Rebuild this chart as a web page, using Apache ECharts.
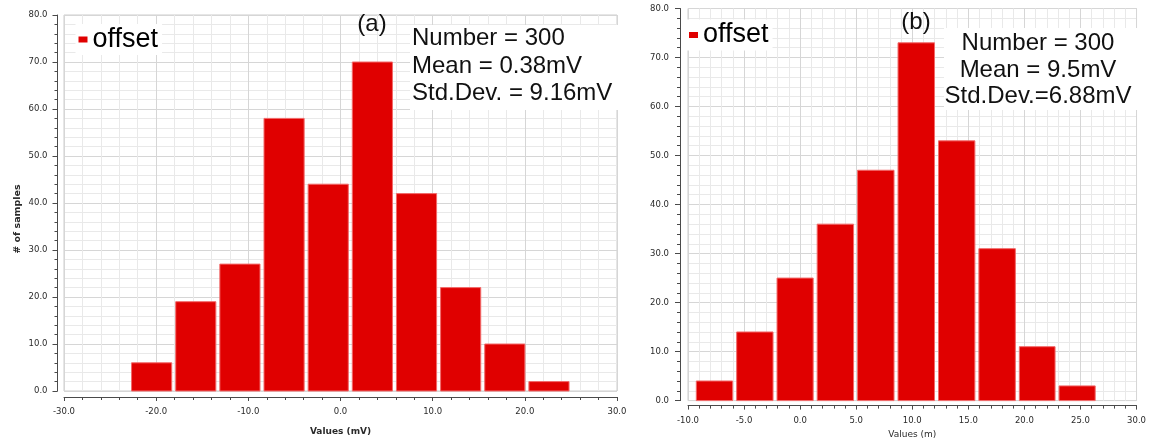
<!DOCTYPE html>
<html>
<head>
<meta charset="utf-8">
<title>offset histograms</title>
<script src="https://cdn.jsdelivr.net/npm/echarts@6/dist/echarts.min.js"></script>
<style>
  html, body { margin: 0; padding: 0; background: #fff; }
  #chart { width: 1149px; height: 444px; }
</style>
</head>
<body>
<div id="chart"></div>
<script>
// Histogram (a): bin edges (mV) and sample counts per bin
const binEdgesA = [-22.67, -17.88, -13.09, -8.30, -3.51, 1.28, 6.07, 10.86, 15.65, 20.44, 25.23];
const countsA = [6, 19, 27, 58, 44, 70, 42, 22, 10, 2];

// Histogram (b): bin edges and sample counts per bin
const binEdgesB = [-9.26, -5.66, -2.06, 1.52, 5.12, 8.73, 12.34, 15.94, 19.55, 23.09, 26.67];
const countsB = [4, 14, 25, 36, 47, 73, 53, 31, 11, 3];

// Axis ranges and steps
const xRangeA = [-30, 30], xStepA = 10;
const xRangeB = [-10, 30], xStepB = 5;
const yRange = [0, 80], yStep = 10;

// Annotation text
const seriesName = 'offset';
const panelTags = ['(a)', '(b)'];
const statsA = ['Number = 300', 'Mean = 0.38mV', 'Std.Dev. = 9.16mV'];
const statsB = ['Number = 300', 'Mean = 9.5mV', 'Std.Dev.=6.88mV'];
const xTitles = ['Values (mV)', 'Values (m)'];
const yTitleA = '# of samples';

const RED = '#e00000';
const TICK_FONT = '"DejaVu Sans", sans-serif';
const TEXT_FONT = '"Liberation Sans", Arial, sans-serif';

function binsOf(edges, counts) {
  return counts.map((c, i) => [edges[i], edges[i + 1], c]);
}

// One rectangle per bin, spanning its edges on the value axis
function renderBin(params, api) {
  const x0 = api.value(0), x1 = api.value(1), v = api.value(2);
  const top = api.coord([x0, v]);
  const base = api.coord([x1, 0]);
  return {
    type: 'rect',
    shape: { x: top[0], y: top[1], width: base[0] - top[0] - 4, height: base[1] - top[1] },
    style: { fill: RED, stroke: '#f26a6a', lineWidth: 1 }
  };
}

function xAxisOf(grid, range, step, offset, title, nameGap, bold, margin) {
  return {
    type: 'value', gridIndex: grid, min: range[0], max: range[1], interval: step,
    offset: offset,
    axisLine: { show: true, onZero: false, lineStyle: { color: '#4a4a4a', width: 1 } },
    axisTick: { show: true, length: 4, lineStyle: { color: '#4a4a4a' } },
    minorTick: { show: true, splitNumber: 5, length: 3, lineStyle: { color: '#4a4a4a' } },
    axisLabel: { formatter: v => v.toFixed(1), fontFamily: TICK_FONT, fontSize: 8.5, color: '#2a2a2a', margin: margin },
    splitLine: { show: true, lineStyle: { color: '#d6d6d6', width: 1 } },
    minorSplitLine: { show: true, lineStyle: { color: '#e9e9e9', width: 1 } },
    name: title, nameLocation: 'middle', nameGap: nameGap,
    nameTextStyle: { fontFamily: TICK_FONT, fontSize: 9, fontWeight: bold ? 'bold' : 'normal', color: '#2a2a2a' }
  };
}

function yAxisOf(grid, offset, margin) {
  return {
    type: 'value', gridIndex: grid, min: yRange[0], max: yRange[1], interval: yStep,
    offset: offset,
    axisLine: { show: true, onZero: false, lineStyle: { color: '#4a4a4a', width: 1 } },
    axisTick: { show: true, length: 5, lineStyle: { color: '#4a4a4a' } },
    minorTick: { show: true, splitNumber: 5, length: 3, lineStyle: { color: '#4a4a4a' } },
    axisLabel: { formatter: v => v.toFixed(1), fontFamily: TICK_FONT, fontSize: 8.5, color: '#2a2a2a', margin: margin },
    splitLine: { show: true, lineStyle: { color: '#d6d6d6', width: 1 } },
    minorSplitLine: { show: true, lineStyle: { color: '#e9e9e9', width: 1 } }
  };
}

function legendOf(left, top) {
  return {
    left: left, top: top, orient: 'horizontal',
    padding: [2, 4, 2, 3], backgroundColor: '#fff',
    icon: 'rect', itemWidth: 9, itemHeight: 6,
    selectedMode: false,
    data: [{ name: seriesName, itemStyle: { color: RED, borderWidth: 0 } }],
    textStyle: { fontFamily: TEXT_FONT, fontSize: 27, color: '#000' }
  };
}

function textEl(str, x, y, align) {
  return {
    type: 'text', x: x, y: y, z: 10,
    style: { text: str, font: '24px ' + TEXT_FONT, fill: '#111', align: align, verticalAlign: 'middle' }
  };
}

const graphics = [
  // statistics box (a)
  { type: 'rect', z: 9, shape: { x: 410, y: 25, width: 208, height: 85 }, style: { fill: '#fff' } },
  textEl(statsA[0], 412, 38.5, 'left'),
  textEl(statsA[1], 412, 66.2, 'left'),
  textEl(statsA[2], 412, 93.5, 'left'),
  textEl(panelTags[0], 372, 24, 'center'),
  // statistics box (b)
  { type: 'rect', z: 9, shape: { x: 944, y: 28, width: 194, height: 82 }, style: { fill: '#fff' } },
  textEl(statsB[0], 1038, 43.4, 'center'),
  textEl(statsB[1], 1038, 70, 'center'),
  textEl(statsB[2], 1038, 96.7, 'center'),
  textEl(panelTags[1], 916, 22, 'center'),
  // y title (a)
  {
    type: 'text', x: 18, y: 219, rotation: Math.PI / 2, z: 10,
    style: { text: yTitleA, font: 'bold 9.5px ' + TICK_FONT, fill: '#2a2a2a', align: 'center', verticalAlign: 'middle' }
  }
];

const chart = echarts.init(document.getElementById('chart'), null, { renderer: 'canvas' });
chart.setOption({
  animation: false,
  backgroundColor: '#fff',
  grid: [
    { left: 64, top: 15, width: 553, height: 376, show: true, borderColor: '#cdcdcd', borderWidth: 1, backgroundColor: '#fff' },
    { left: 688, top: 8.5, width: 451, height: 395.5, show: true, borderColor: '#cdcdcd', borderWidth: 1, backgroundColor: '#fff' }
  ],
  xAxis: [
    xAxisOf(0, xRangeA, xStepA, 6, xTitles[0], 30, true, 10),
    xAxisOf(1, xRangeB, xStepB, 5, xTitles[1], 22, false, 10.5)
  ],
  yAxis: [
    yAxisOf(0, 6.5, 10),
    yAxisOf(1, 8, 11)
  ],
  legend: [legendOf(75.5, 24), legendOf(686, 19.5)],
  series: [
    {
      name: seriesName, type: 'custom', xAxisIndex: 0, yAxisIndex: 0,
      itemStyle: { color: RED },
      renderItem: renderBin, encode: { x: [0, 1], y: 2 },
      data: binsOf(binEdgesA, countsA)
    },
    {
      name: seriesName, type: 'custom', xAxisIndex: 1, yAxisIndex: 1,
      itemStyle: { color: RED },
      renderItem: renderBin, encode: { x: [0, 1], y: 2 },
      data: binsOf(binEdgesB, countsB)
    }
  ],
  graphic: graphics
});
</script>
</body>
</html>
